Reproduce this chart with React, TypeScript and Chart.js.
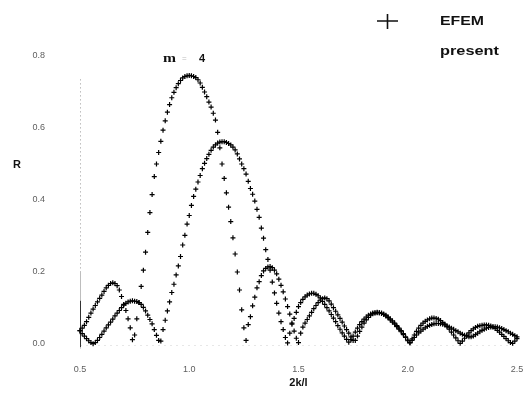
import { useEffect, useRef } from "react";
import { Chart, registerables } from "chart.js";

Chart.register(...registerables);

// 2k/l sample positions
const kValues = [
  0.50, 0.51, 0.52, 0.53, 0.54, 0.55, 0.56, 0.57, 0.58, 0.59,
  0.60, 0.61, 0.62, 0.63, 0.64, 0.65, 0.66, 0.67, 0.68, 0.69,
  0.70, 0.71, 0.72, 0.73, 0.74, 0.75, 0.76, 0.77, 0.78, 0.79,
  0.80, 0.81, 0.82, 0.83, 0.84, 0.85, 0.86, 0.87, 0.88, 0.89,
  0.90, 0.91, 0.92, 0.93, 0.94, 0.95, 0.96, 0.97, 0.98, 0.99,
  1.00, 1.01, 1.02, 1.03, 1.04, 1.05, 1.06, 1.07, 1.08, 1.09,
  1.10, 1.11, 1.12, 1.13, 1.14, 1.15, 1.16, 1.17, 1.18, 1.19,
  1.20, 1.21, 1.22, 1.23, 1.24, 1.25, 1.26, 1.27, 1.28, 1.29,
  1.30, 1.31, 1.32, 1.33, 1.34, 1.35, 1.36, 1.37, 1.38, 1.39,
  1.40, 1.41, 1.42, 1.43, 1.44, 1.45, 1.46, 1.47, 1.48, 1.49,
  1.50, 1.51, 1.52, 1.53, 1.54, 1.55, 1.56, 1.57, 1.58, 1.59,
  1.60, 1.61, 1.62, 1.63, 1.64, 1.65, 1.66, 1.67, 1.68, 1.69,
  1.70, 1.71, 1.72, 1.73, 1.74, 1.75, 1.76, 1.77, 1.78, 1.79,
  1.80, 1.81, 1.82, 1.83, 1.84, 1.85, 1.86, 1.87, 1.88, 1.89,
  1.90, 1.91, 1.92, 1.93, 1.94, 1.95, 1.96, 1.97, 1.98, 1.99,
  2.00, 2.01, 2.02, 2.03, 2.04, 2.05, 2.06, 2.07, 2.08, 2.09,
  2.10, 2.11, 2.12, 2.13, 2.14, 2.15, 2.16, 2.17, 2.18, 2.19,
  2.20, 2.21, 2.22, 2.23, 2.24, 2.25, 2.26, 2.27, 2.28, 2.29,
  2.30, 2.31, 2.32, 2.33, 2.34, 2.35, 2.36, 2.37, 2.38, 2.39,
  2.40, 2.41, 2.42, 2.43, 2.44, 2.45, 2.46, 2.47, 2.48, 2.49,
  2.50,
];

// EFEM reflectance R
const efemR = [
  0.037, 0.044, 0.052, 0.062, 0.074, 0.086, 0.097, 0.107, 0.117, 0.127,
  0.136, 0.146, 0.156, 0.163, 0.168, 0.170, 0.168, 0.162, 0.150, 0.132,
  0.110, 0.093, 0.070, 0.045, 0.012, 0.025, 0.070, 0.115, 0.160, 0.205,
  0.255, 0.310, 0.365, 0.415, 0.465, 0.500, 0.532, 0.563, 0.594, 0.620,
  0.644, 0.665, 0.684, 0.699, 0.712, 0.723, 0.732, 0.739, 0.743, 0.745,
  0.746, 0.745, 0.743, 0.740, 0.734, 0.725, 0.713, 0.700, 0.687, 0.672,
  0.658, 0.641, 0.622, 0.588, 0.545, 0.500, 0.460, 0.420, 0.380, 0.340,
  0.295, 0.250, 0.200, 0.150, 0.095, 0.045, 0.010, 0.054, 0.076, 0.106,
  0.130, 0.156, 0.173, 0.190, 0.203, 0.210, 0.214, 0.215, 0.212, 0.205,
  0.195, 0.180, 0.163, 0.145, 0.125, 0.104, 0.083, 0.058, 0.036, 0.016,
  0.004, 0.030, 0.047, 0.058, 0.068, 0.078, 0.088, 0.098, 0.107, 0.115,
  0.122, 0.126, 0.128, 0.126, 0.120, 0.111, 0.101, 0.091, 0.081, 0.071,
  0.061, 0.050, 0.040, 0.030, 0.020, 0.010, 0.010, 0.022, 0.035, 0.047,
  0.058, 0.067, 0.074, 0.080, 0.084, 0.086, 0.087, 0.087, 0.086, 0.083,
  0.080, 0.075, 0.070, 0.064, 0.058, 0.051, 0.044, 0.037, 0.029, 0.020,
  0.011, 0.004, 0.014, 0.025, 0.035, 0.044, 0.052, 0.058, 0.063, 0.067,
  0.070, 0.072, 0.072, 0.071, 0.069, 0.065, 0.060, 0.055, 0.048, 0.041,
  0.033, 0.025, 0.017, 0.009, 0.002, 0.008, 0.016, 0.024, 0.031, 0.037,
  0.042, 0.046, 0.049, 0.051, 0.052, 0.053, 0.053, 0.052, 0.050, 0.047,
  0.043, 0.038, 0.033, 0.027, 0.021, 0.015, 0.009, 0.004, 0.002, 0.008,
  0.015,
];

// present method reflectance R
const presentR = [
  0.037, 0.029, 0.022, 0.015, 0.009, 0.004, 0.001, 0.004, 0.010, 0.018,
  0.027, 0.036, 0.045, 0.053, 0.061, 0.069, 0.078, 0.086, 0.093, 0.101,
  0.108, 0.113, 0.117, 0.119, 0.120, 0.119, 0.118, 0.115, 0.110, 0.102,
  0.092, 0.080, 0.068, 0.056, 0.040, 0.024, 0.010, 0.008, 0.040, 0.066,
  0.092, 0.117, 0.143, 0.166, 0.192, 0.217, 0.243, 0.275, 0.302, 0.333,
  0.357, 0.385, 0.410, 0.430, 0.450, 0.468, 0.487, 0.502, 0.515, 0.527,
  0.538, 0.547, 0.553, 0.558, 0.561, 0.562, 0.562, 0.560, 0.557, 0.553,
  0.547, 0.539, 0.528, 0.514, 0.500, 0.487, 0.472, 0.452, 0.432, 0.416,
  0.397, 0.374, 0.352, 0.322, 0.294, 0.262, 0.235, 0.205, 0.172, 0.142,
  0.113, 0.086, 0.062, 0.040, 0.018, 0.003, 0.030, 0.055, 0.071, 0.088,
  0.104, 0.115, 0.124, 0.131, 0.136, 0.139, 0.141, 0.141, 0.138, 0.134,
  0.128, 0.118, 0.110, 0.101, 0.092, 0.082, 0.072, 0.062, 0.051, 0.041,
  0.031, 0.022, 0.013, 0.005, 0.012, 0.022, 0.033, 0.044, 0.054, 0.062,
  0.069, 0.075, 0.080, 0.083, 0.086, 0.087, 0.088, 0.087, 0.085, 0.082,
  0.078, 0.073, 0.067, 0.061, 0.055, 0.048, 0.041, 0.034, 0.026, 0.018,
  0.009, 0.003, 0.010, 0.018, 0.025, 0.031, 0.036, 0.041, 0.045, 0.049,
  0.052, 0.054, 0.056, 0.057, 0.057, 0.056, 0.055, 0.053, 0.050, 0.047,
  0.044, 0.041, 0.037, 0.034, 0.030, 0.027, 0.024, 0.022, 0.020, 0.020,
  0.022, 0.026, 0.030, 0.034, 0.038, 0.041, 0.044, 0.046, 0.047, 0.048,
  0.048, 0.047, 0.045, 0.043, 0.040, 0.037, 0.034, 0.030, 0.027, 0.023,
  0.020,
];

const xTicks = [0.5, 1.0, 1.5, 2.0, 2.5];
const yTicks = [0.0, 0.2, 0.4, 0.6, 0.8];
const seriesLabels = ["EFEM", "present"];
const xTitle = "2k/l";
const yTitle = "R";
const modeLabel = ["m", "=", "4"];

const W = 531;
const H = 397;

function fitText(ctx: CanvasRenderingContext2D, text: string, x: number, y: number, width: number) {
  const w = ctx.measureText(text).width;
  ctx.save();
  ctx.translate(x, y);
  ctx.scale(width / w, 1);
  ctx.fillText(text, 0, 0);
  ctx.restore();
}

const decorPlugin = {
  id: "decor",
  beforeDatasetsDraw(chart: any) {
    const ctx = chart.ctx as CanvasRenderingContext2D;
    const xs = chart.scales.x;
    const ys = chart.scales.y;
    const x0 = Math.round(xs.getPixelForValue(0.5)) + 0.5;
    ctx.save();
    // dotted y axis
    ctx.strokeStyle = "#9a9a9a";
    ctx.lineWidth = 1;
    ctx.setLineDash([1, 3]);
    ctx.beginPath();
    ctx.moveTo(x0, ys.getPixelForValue(0.735));
    ctx.lineTo(x0, ys.getPixelForValue(0) + 6);
    ctx.stroke();
    // faint baseline
    ctx.strokeStyle = "#cfcfcf";
    ctx.setLineDash([1, 5]);
    ctx.beginPath();
    ctx.moveTo(x0, ys.getPixelForValue(0) + 1.5);
    ctx.lineTo(xs.getPixelForValue(2.5), ys.getPixelForValue(0) + 1.5);
    ctx.stroke();
    // solid lower part of y axis
    ctx.setLineDash([]);
    ctx.strokeStyle = "#bdbdbd";
    ctx.beginPath();
    ctx.moveTo(x0, ys.getPixelForValue(0.2));
    ctx.lineTo(x0, ys.getPixelForValue(0.12));
    ctx.stroke();
    ctx.strokeStyle = "#333";
    ctx.beginPath();
    ctx.moveTo(x0, ys.getPixelForValue(0.12));
    ctx.lineTo(x0, ys.getPixelForValue(0) + 3);
    ctx.stroke();
    ctx.restore();
  },
  afterDraw(chart: any) {
    const ctx = chart.ctx as CanvasRenderingContext2D;
    ctx.save();
    ctx.fillStyle = "#111";
    ctx.textBaseline = "middle";
    ctx.textAlign = "left";
    // y title
    ctx.font = "bold 11px 'Liberation Sans', Arial, sans-serif";
    ctx.fillText(yTitle, 13, 165);
    // legend
    ctx.strokeStyle = "#111";
    ctx.lineWidth = 1.6;
    ctx.beginPath();
    ctx.moveTo(377, 21);
    ctx.lineTo(398, 21);
    ctx.moveTo(387.5, 14);
    ctx.lineTo(387.5, 29);
    ctx.stroke();
    ctx.font = "bold 13px 'Liberation Sans', Arial, sans-serif";
    fitText(ctx, seriesLabels[0], 440, 21, 44);
    fitText(ctx, seriesLabels[1], 440, 51, 59);
    // m = 4 annotation
    ctx.font = "bold 12px 'Liberation Serif', 'Times New Roman', serif";
    fitText(ctx, modeLabel[0], 163, 59, 13);
    ctx.fillStyle = "#bbb";
    ctx.font = "8px 'Liberation Sans', Arial, sans-serif";
    ctx.fillText(modeLabel[1], 182, 59);
    ctx.fillStyle = "#111";
    ctx.font = "bold 11px 'Liberation Sans', Arial, sans-serif";
    ctx.fillText(modeLabel[2], 199, 59);
    ctx.restore();
  },
};

export default function App() {
  const ref = useRef<HTMLCanvasElement | null>(null);
  useEffect(() => {
    if (!ref.current) return;
    const makeData = (vals: number[]) => kValues.map((x, i) => ({ x, y: vals[i] }));
    const ds = (label: string, vals: number[]) => ({
      label,
      data: makeData(vals),
      showLine: false,
      pointStyle: "cross" as const,
      pointRadius: 2.5,
      pointHoverRadius: 2.5,
      pointBorderWidth: 1.2,
      borderColor: "#000",
      backgroundColor: "#000",
      clip: false as const,
    });
    const chart = new Chart(ref.current, {
      type: "scatter",
      data: {
        datasets: [ds(seriesLabels[0], efemR), ds(seriesLabels[1], presentR)],
      },
      options: {
        responsive: false,
        animation: false,
        events: [],
        layout: { padding: { left: 0, right: 14, top: 56, bottom: 0 } },
        plugins: {
          legend: { display: false },
          tooltip: { enabled: false },
          title: { display: false },
        },
        scales: {
          x: {
            type: "linear",
            min: 0.5,
            max: 2.5,
            afterBuildTicks: (scale: any) => {
              scale.ticks = xTicks.map((v) => ({ value: v }));
            },
            afterFit: (scale: any) => {
              scale.height = H - 344;
              scale.paddingLeft = 0;
              scale.paddingRight = 0;
            },
            grid: { display: false, drawTicks: false },
            border: { display: false },
            ticks: {
              padding: 20,
              color: "#5e5e5e",
              font: { family: "'Liberation Sans', Arial, sans-serif", size: 9 },
              callback: (v: any) => Number(v).toFixed(1),
              maxRotation: 0,
              autoSkip: false,
            },
            title: {
              display: true,
              text: xTitle,
              color: "#111",
              font: { family: "'Liberation Sans', Arial, sans-serif", size: 11, weight: "bold" },
              padding: { top: 0, bottom: 7 },
            },
          },
          y: {
            type: "linear",
            min: 0,
            max: 0.8,
            afterBuildTicks: (scale: any) => {
              scale.ticks = yTicks.map((v) => ({ value: v }));
            },
            afterFit: (scale: any) => {
              scale.width = 80;
              scale.paddingTop = 0;
              scale.paddingBottom = 0;
            },
            grid: { display: false, drawTicks: false },
            border: { display: false },
            ticks: {
              padding: 35,
              color: "#5e5e5e",
              font: { family: "'Liberation Sans', Arial, sans-serif", size: 9 },
              callback: (v: any) => Number(v).toFixed(1),
              autoSkip: false,
            },
          },
        },
      },
      plugins: [decorPlugin],
    });
    return () => chart.destroy();
  }, []);
  return (
    <div style={{ position: "absolute", left: 0, top: 0, width: W, height: H, background: "#fff" }}>
      <canvas ref={ref} width={W} height={H} style={{ width: W, height: H, display: "block" }} />
    </div>
  );
}
